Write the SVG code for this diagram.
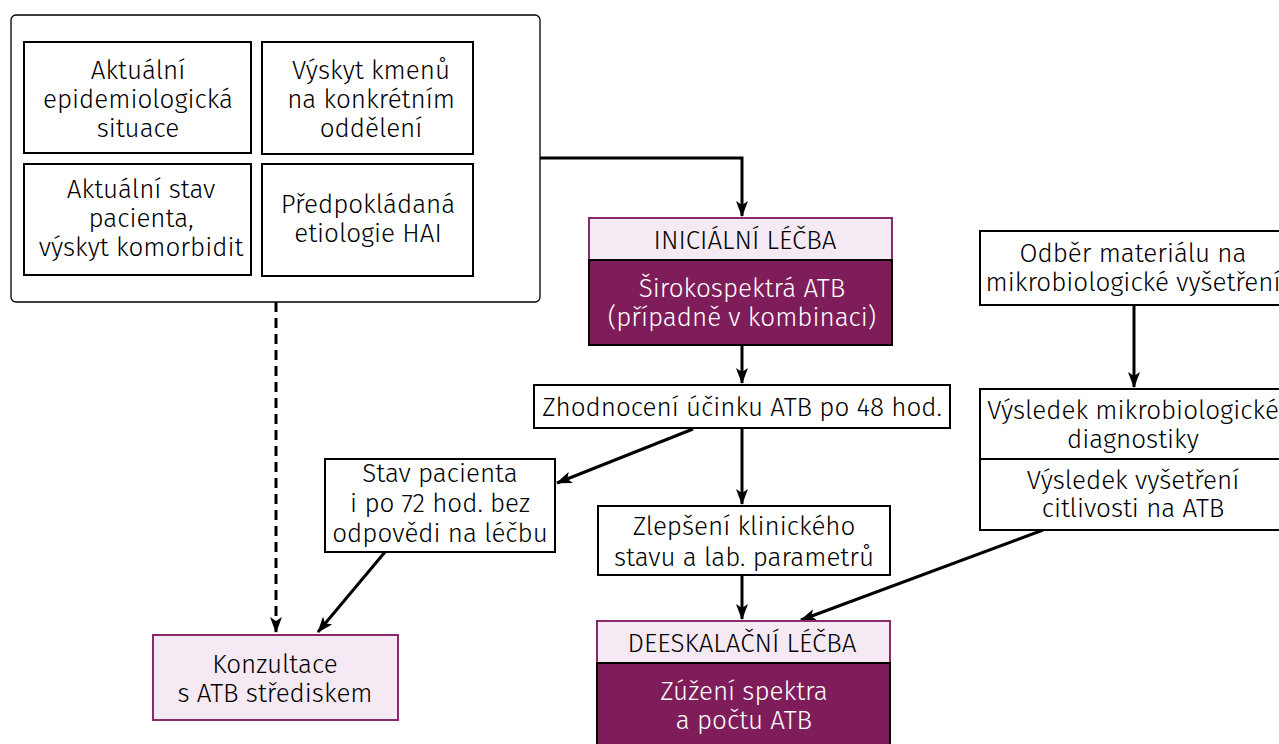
<svg xmlns="http://www.w3.org/2000/svg" width="1279" height="744" viewBox="0 0 1279 744">
<defs>
<marker id="arr" viewBox="0 0 16 12" refX="15" refY="6" markerWidth="16" markerHeight="12" markerUnits="userSpaceOnUse" orient="auto">
<path d="M0,0 L16,6 L0,12 L4,6 Z" fill="#000"/>
</marker>
<style>
text{font-family:"Fira Sans","Noto Sans","Open Sans",sans-serif;font-size:26px;font-weight:300;fill:#000;text-anchor:middle}
.w{fill:#fff}
.box{fill:#fff;stroke:#000;stroke-width:2}
.hdr{fill:#F5EAF3;stroke:#8B2A6B;stroke-width:2}
.dark{fill:#7F1D5A;stroke:#000;stroke-width:2}
.con{fill:none;stroke:#000;stroke-width:3;marker-end:url(#arr)}
</style>
</defs>
<rect width="1279" height="744" fill="#fff"/>
<g id="factors">
<rect x="11" y="15" width="529" height="287" rx="5" fill="#fff" stroke="#000" stroke-width="1.3"/>
<g id="f1"><rect class="box" x="24" y="42" width="227" height="111"/>
<text x="138" y="79">Aktuální</text><text x="138" y="108">epidemiologická</text><text x="138" y="137">situace</text></g>
<g id="f2"><rect class="box" x="262" y="42" width="211" height="112"/>
<text x="371" y="79">Výskyt kmenů</text><text x="371" y="108">na konkrétním</text><text x="371" y="137">oddělení</text></g>
<g id="f3"><rect class="box" x="24" y="164" width="227" height="111"/>
<text x="141" y="198">Aktuální stav</text><text x="141" y="227">pacienta,</text><text x="141" y="256">výskyt komorbidit</text></g>
<g id="f4"><rect class="box" x="262" y="164" width="211" height="112"/>
<text x="368" y="213">Předpokládaná</text><text x="368" y="242">etiologie HAI</text></g>
</g>
<g id="connectors">
<path class="con" d="M540,158 H742 V216"/>
<path class="con" d="M742,345 V383"/>
<path class="con" d="M742,428 V504"/>
<path class="con" d="M742,575 V619"/>
<path class="con" d="M693,429 L557,483"/>
<path class="con" d="M385,552 L318,632"/>
<path class="con" d="M276,302 V632" stroke-dasharray="10,6" stroke-width="2"/>
<path class="con" d="M1134,305 V387"/>
<path class="con" d="M1043,530 L801,620"/>
</g>
<g id="initial">
<rect class="hdr" x="589" y="218" width="303" height="42"/>
<text x="745" y="249">INICIÁLNÍ LÉČBA</text>
<rect class="dark" x="589" y="260" width="303" height="85"/>
<text class="w" x="742" y="297">Širokospektrá ATB</text><text class="w" x="742" y="326">(případně v kombinaci)</text>
</g>
<g id="eval">
<rect class="box" x="534" y="385" width="416" height="43"/>
<text x="742" y="416">Zhodnocení účinku ATB po 48 hod.</text>
</g>
<g id="noresponse">
<rect class="box" x="325" y="459" width="230" height="93"/>
<text x="440" y="482">Stav pacienta</text><text x="440" y="512">i po 72 hod. bez</text><text x="440" y="542">odpovědi na léčbu</text>
</g>
<g id="improve">
<rect class="box" x="598" y="506" width="292" height="69"/>
<text x="744" y="535">Zlepšení klinického</text><text x="744" y="566">stavu a lab. parametrů</text>
</g>
<g id="consult">
<rect class="hdr" x="153" y="635" width="245" height="85"/>
<text x="275" y="673">Konzultace</text><text x="275" y="702">s ATB střediskem</text>
</g>
<g id="deesc">
<rect class="hdr" x="597" y="621" width="293" height="42"/>
<text x="742" y="652">DEESKALAČNÍ LÉČBA</text>
<rect class="dark" x="597" y="663" width="293" height="90"/>
<text class="w" x="744" y="700">Zúžení spektra</text><text class="w" x="744" y="729">a počtu ATB</text>
</g>
<g id="sample">
<rect class="box" x="980" y="231" width="306" height="74"/>
<text x="1133" y="262">Odběr materiálu na</text><text x="1133" y="291">mikrobiologické vyšetření</text>
</g>
<g id="result">
<rect class="box" x="980" y="389" width="306" height="141"/>
<line x1="980" y1="459" x2="1286" y2="459" stroke="#000" stroke-width="2"/>
<text x="1133" y="419">Výsledek mikrobiologické</text><text x="1133" y="448">diagnostiky</text>
<text x="1133" y="489">Výsledek vyšetření</text><text x="1133" y="517">citlivosti na ATB</text>
</g>
</svg>
